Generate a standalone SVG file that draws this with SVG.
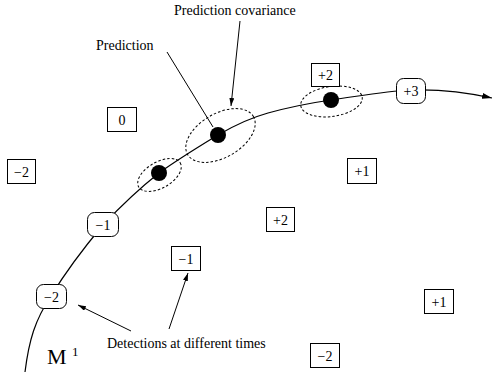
<svg xmlns="http://www.w3.org/2000/svg" width="494" height="373" viewBox="0 0 494 373">
  <style>
    text { font-family: "Liberation Serif", "Times New Roman", serif; font-size: 14px; fill: #000; }
    .lbl { text-anchor: middle; }
    .box { fill: #fff; stroke: #000; stroke-width: 1; }
    .track { fill: none; stroke: #000; stroke-width: 1.2; }
    .cov { fill: none; stroke: #000; stroke-width: 1; stroke-dasharray: 2.5 2; }
    .pointer { fill: none; stroke: #000; stroke-width: 1; }
    .dot { fill: #000; }
  </style>
  <defs>
    <marker id="trackHead" viewBox="0 0 10 6" refX="10" refY="3" markerWidth="10" markerHeight="6" markerUnits="userSpaceOnUse" orient="auto">
      <path d="M0,0 L10,3 L0,6 Z" fill="#000"/>
    </marker>
    <marker id="ptrHead" viewBox="0 0 8 5" refX="8" refY="2.5" markerWidth="8" markerHeight="5" markerUnits="userSpaceOnUse" orient="auto">
      <path d="M0,0 L8,2.5 L0,5 Z" fill="#000"/>
    </marker>
  </defs>

  <!-- trajectory and annotation pointers -->
  <g id="connectors">
    <path class="track" marker-end="url(#trackHead)" d="M25,372 C29,340 35,320 51,296 C62,278 82,250 103,225 C120,207 140,188 159,173 C180,158 200,146 218,135 C235,125 250,118 268,113 C290,107 310,103 331,100 C360,96 385,91 411,90 C440,89 465,92 492,98"/>
    <line class="pointer" x1="167" y1="52" x2="213" y2="127"/>
    <line class="pointer" x1="240" y1="21" x2="231" y2="106" marker-end="url(#ptrHead)"/>
    <line class="pointer" x1="131" y1="331" x2="78" y2="305" marker-end="url(#ptrHead)"/>
    <line class="pointer" x1="169" y1="329" x2="188" y2="273" marker-end="url(#ptrHead)"/>
  </g>

  <!-- predictions with covariance ellipses -->
  <g id="pred1">
    <ellipse class="cov" cx="159.5" cy="175" rx="24" ry="13" transform="rotate(-30 159.5 175)"/>
    <circle class="dot" cx="159" cy="173" r="8"/>
  </g>
  <g id="pred2">
    <ellipse class="cov" cx="220.5" cy="135.5" rx="38" ry="22" transform="rotate(-30 220.5 135.5)"/>
    <circle class="dot" cx="218" cy="135" r="8"/>
  </g>
  <g id="pred3">
    <ellipse class="cov" cx="331.5" cy="101.5" rx="31" ry="15" transform="rotate(-8 331.5 101.5)"/>
    <circle class="dot" cx="331" cy="100" r="8"/>
  </g>

  <!-- detections on the track -->
  <g id="track-m2">
    <rect class="box" x="36.5" y="284.5" width="30" height="24" rx="7"/>
    <text class="lbl" x="51.5" y="301.5">−2</text>
  </g>
  <g id="track-m1">
    <rect class="box" x="87.5" y="212.5" width="31" height="24" rx="7"/>
    <text class="lbl" x="103" y="229.5">−1</text>
  </g>
  <g id="track-p3">
    <rect class="box" x="396.5" y="78.5" width="29" height="25" rx="7"/>
    <text class="lbl" x="411" y="96">+3</text>
  </g>

  <!-- clutter detections -->
  <g id="det-0">
    <rect class="box" x="107.5" y="107.5" width="29" height="24"/>
    <text class="lbl" x="122" y="124.5">0</text>
  </g>
  <g id="det-m2a">
    <rect class="box" x="7.5" y="159.5" width="28" height="24"/>
    <text class="lbl" x="21.5" y="176.5">−2</text>
  </g>
  <g id="det-p2a">
    <rect class="box" x="311.5" y="63.5" width="28" height="23"/>
    <text class="lbl" x="325.5" y="80">+2</text>
  </g>
  <g id="det-p1a">
    <rect class="box" x="347.5" y="158.5" width="29" height="25"/>
    <text class="lbl" x="362" y="176">+1</text>
  </g>
  <g id="det-p2b">
    <rect class="box" x="266.5" y="207.5" width="28" height="24"/>
    <text class="lbl" x="280.5" y="224.5">+2</text>
  </g>
  <g id="det-m1">
    <rect class="box" x="171.5" y="246.5" width="29" height="24"/>
    <text class="lbl" x="186" y="263.5">−1</text>
  </g>
  <g id="det-p1b">
    <rect class="box" x="424.5" y="289.5" width="29" height="24"/>
    <text class="lbl" x="439" y="306.5">+1</text>
  </g>
  <g id="det-m2b">
    <rect class="box" x="310.5" y="343.5" width="29" height="24"/>
    <text class="lbl" x="325" y="360.5">−2</text>
  </g>

  <!-- labels -->
  <g id="labels">
    <text x="174" y="15">Prediction covariance</text>
    <text x="96" y="50">Prediction</text>
    <text x="107" y="348">Detections at different times</text>
    <text x="47" y="364" style="font-size:22px">M</text>
    <text x="72" y="356" style="font-size:13px">1</text>
  </g>
</svg>
